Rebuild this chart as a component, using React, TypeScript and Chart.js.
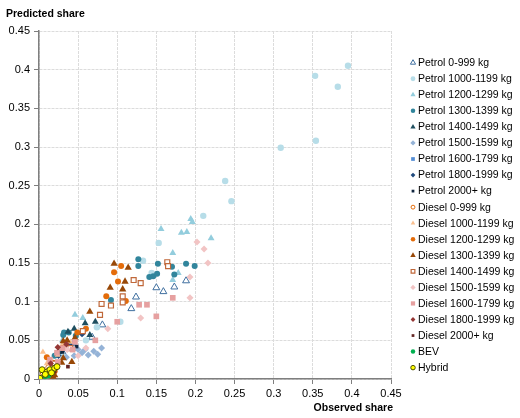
import React, { useEffect, useRef } from "react";
import { Chart, registerables } from "chart.js";
import { drawPoint } from "chart.js/helpers";

Chart.register(...registerables);

type P = [number, number];

const axisTicks = [0, 0.05, 0.1, 0.15, 0.2, 0.25, 0.3, 0.35, 0.4, 0.45];
const xTitle = "Observed share";
const yTitle = "Predicted share";

const petrol0_999: P[] = [[0.124, 0.106], [0.118, 0.091], [0.081, 0.07], [0.068, 0.054], [0.15, 0.118], [0.159, 0.113], [0.173, 0.119], [0.188, 0.127], [0.03, 0.035], [0.045, 0.04]];
const petrol1000_1199: P[] = [[0.395, 0.405], [0.353, 0.392], [0.382, 0.378], [0.354, 0.308], [0.309, 0.299], [0.238, 0.256], [0.246, 0.23], [0.21, 0.211], [0.153, 0.176], [0.133, 0.153], [0.144, 0.137], [0.104, 0.074], [0.074, 0.067], [0.06, 0.05], [0.03, 0.03], [0.02, 0.018]];
const petrol1200_1299: P[] = [[0.156, 0.194], [0.194, 0.207], [0.196, 0.203], [0.182, 0.189], [0.189, 0.19], [0.22, 0.182], [0.171, 0.163], [0.178, 0.137], [0.171, 0.128], [0.046, 0.083], [0.056, 0.079], [0.03, 0.05], [0.02, 0.03]];
const petrol1300_1399: P[] = [[0.127, 0.155], [0.127, 0.146], [0.152, 0.149], [0.17, 0.145], [0.188, 0.149], [0.199, 0.146], [0.141, 0.132], [0.146, 0.133], [0.151, 0.136], [0.173, 0.135], [0.092, 0.102], [0.032, 0.06], [0.038, 0.06], [0.047, 0.056], [0.031, 0.057], [0.02, 0.03]];
const petrol1400_1499: P[] = [[0.059, 0.072], [0.072, 0.074], [0.065, 0.057], [0.037, 0.061], [0.045, 0.065], [0.025, 0.035]];
const petrol1500_1599: P[] = [[0.059, 0.038], [0.063, 0.031], [0.055, 0.034], [0.05, 0.038], [0.07, 0.036], [0.075, 0.032], [0.045, 0.03], [0.035, 0.028], [0.08, 0.04]];
const petrol1600_1799: P[] = [[0.03, 0.04], [0.045, 0.047], [0.015, 0.02]];
const petrol1800_1999: P[] = [[0.055, 0.058], [0.04, 0.045], [0.025, 0.03]];
const petrol2000plus: P[] = [[0.03, 0.035], [0.048, 0.042], [0.01, 0.01]];
const diesel0_999: P[] = [[0.005, 0.008], [0.012, 0.015]];
const diesel1000_1199: P[] = [[0.005, 0.035], [0.024, 0.031], [0.01, 0.02], [0.03, 0.045], [0.04, 0.048]];
const diesel1200_1299: P[] = [[0.105, 0.146], [0.096, 0.138], [0.101, 0.126], [0.086, 0.107], [0.111, 0.101], [0.049, 0.06], [0.01, 0.028], [0.018, 0.021], [0.03, 0.04], [0.06, 0.065], [0.02, 0.01]];
const diesel1300_1399: P[] = [[0.096, 0.149], [0.114, 0.144], [0.11, 0.126], [0.091, 0.118], [0.107, 0.116], [0.065, 0.087], [0.036, 0.05], [0.031, 0.049], [0.046, 0.053], [0.031, 0.027], [0.029, 0.021], [0.02, 0.005], [0.042, 0.022], [0.018, 0.003]];
const diesel1400_1499: P[] = [[0.08, 0.097], [0.092, 0.095], [0.078, 0.083], [0.107, 0.107], [0.107, 0.099], [0.121, 0.128], [0.13, 0.124], [0.164, 0.151], [0.165, 0.146], [0.056, 0.062], [0.04, 0.04], [0.02, 0.02]];
const diesel1500_1599: P[] = [[0.202, 0.177], [0.211, 0.168], [0.216, 0.15], [0.193, 0.132], [0.193, 0.105], [0.13, 0.079], [0.088, 0.065], [0.036, 0.038], [0.05, 0.03], [0.06, 0.04]];
const diesel1600_1799: P[] = [[0.138, 0.096], [0.128, 0.096], [0.1, 0.074], [0.072, 0.05], [0.046, 0.048], [0.023, 0.034], [0.014, 0.025], [0.171, 0.105], [0.15, 0.081], [0.043, 0.038], [0.024, 0.022], [0.03, 0.04]];
const diesel1800_1999: P[] = [[0.024, 0.041], [0.035, 0.045], [0.015, 0.02]];
const diesel2000plus: P[] = [[0.037, 0.016], [0.02, 0.01]];
const bev: P[] = [[0.012, 0.005], [0.001, 0.001], [0.008, 0.004]];
const hybrid: P[] = [[0.001, 0.001], [0.004, 0.012], [0.01, 0.009], [0.014, 0.012], [0.02, 0.014], [0.023, 0.016], [0.008, 0.006], [0.016, 0.008]];

const seriesNames = [
  "Petrol 0-999 kg", "Petrol 1000-1199 kg", "Petrol 1200-1299 kg", "Petrol 1300-1399 kg",
  "Petrol 1400-1499 kg", "Petrol 1500-1599 kg", "Petrol 1600-1799 kg", "Petrol 1800-1999 kg",
  "Petrol 2000+ kg", "Diesel 0-999 kg", "Diesel 1000-1199 kg", "Diesel 1200-1299 kg",
  "Diesel 1300-1399 kg", "Diesel 1400-1499 kg", "Diesel 1500-1599 kg", "Diesel 1600-1799 kg",
  "Diesel 1800-1999 kg", "Diesel 2000+ kg", "BEV", "Hybrid",
];
const seriesData = [
  petrol0_999, petrol1000_1199, petrol1200_1299, petrol1300_1399, petrol1400_1499,
  petrol1500_1599, petrol1600_1799, petrol1800_1999, petrol2000plus, diesel0_999,
  diesel1000_1199, diesel1200_1299, diesel1300_1399, diesel1400_1499, diesel1500_1599,
  diesel1600_1799, diesel1800_1999, diesel2000plus, bev, hybrid,
];

type Sty = { shape: string; r: number; fill: string; stroke: string; bw: number };
const styles: Sty[] = [
  { shape: "triangle", r: 4, fill: "#ffffff", stroke: "#3f6f9f", bw: 1 },
  { shape: "circle", r: 3.2, fill: "#b7dde8", stroke: "#b7dde8", bw: 0 },
  { shape: "triangle", r: 4, fill: "#93cddd", stroke: "#93cddd", bw: 0 },
  { shape: "circle", r: 3, fill: "#31859c", stroke: "#31859c", bw: 0 },
  { shape: "triangle", r: 4, fill: "#1f4e5f", stroke: "#1f4e5f", bw: 0 },
  { shape: "rectRot", r: 3.5, fill: "#95b3d7", stroke: "#95b3d7", bw: 0 },
  { shape: "rect", r: 3.5, fill: "#558ed5", stroke: "#558ed5", bw: 0 },
  { shape: "rectRot", r: 3.2, fill: "#1f497d", stroke: "#1f497d", bw: 0 },
  { shape: "rect", r: 2.6, fill: "#10253f", stroke: "#10253f", bw: 0 },
  { shape: "circle", r: 2.6, fill: "#ffffff", stroke: "#e46c0a", bw: 1 },
  { shape: "triangle", r: 3.5, fill: "#fac090", stroke: "#fac090", bw: 0 },
  { shape: "circle", r: 3, fill: "#e46c0a", stroke: "#e46c0a", bw: 0 },
  { shape: "triangle", r: 4.2, fill: "#984807", stroke: "#984807", bw: 0 },
  { shape: "rect", r: 3.5, fill: "#ffffff", stroke: "#c0683a", bw: 1.2 },
  { shape: "rectRot", r: 3.5, fill: "#f2c4c4", stroke: "#f2c4c4", bw: 0 },
  { shape: "rect", r: 4, fill: "#e6a0a0", stroke: "#e6a0a0", bw: 0 },
  { shape: "rectRot", r: 3.2, fill: "#953735", stroke: "#953735", bw: 0 },
  { shape: "rect", r: 2.6, fill: "#632523", stroke: "#632523", bw: 0 },
  { shape: "circle", r: 3, fill: "#00b050", stroke: "#00b050", bw: 0 },
  { shape: "circle", r: 3, fill: "#ffff00", stroke: "#4d4d00", bw: 1 },
];

const FONT = "'Liberation Sans', Arial, sans-serif";

const overlay = {
  id: "overlay",
  afterDraw(chart: any) {
    const ctx = chart.ctx as CanvasRenderingContext2D;
    ctx.save();
    ctx.fillStyle = "#000000";
    ctx.font = `bold 10.5px ${FONT}`;
    ctx.textBaseline = "middle";
    ctx.textAlign = "left";
    ctx.fillText(yTitle, 6, 14);
    ctx.textAlign = "right";
    ctx.fillText(xTitle, 393, 408);
    ctx.font = `10.5px ${FONT}`;
    ctx.textAlign = "left";
    const x0 = 413;
    const y0 = 62.7;
    const dy = 16.05;
    seriesNames.forEach((name, i) => {
      const s = styles[i];
      const y = y0 + i * dy;
      ctx.fillStyle = s.fill;
      ctx.strokeStyle = s.stroke;
      ctx.lineWidth = s.bw;
      drawPoint(ctx, { pointStyle: s.shape as any, radius: s.r * 0.75, rotation: 0, borderWidth: s.bw }, x0, y);
      ctx.fillStyle = "#000000";
      ctx.fillText(name, 418, y + 0.5);
    });
    ctx.restore();
  },
};

export default function App() {
  const ref = useRef<HTMLCanvasElement>(null);
  useEffect(() => {
    if (!ref.current) return;
    const datasets = seriesData.map((d, i) => ({
      label: seriesNames[i],
      data: d.map(([x, y]) => ({ x, y })),
      pointStyle: styles[i].shape as any,
      pointRadius: styles[i].r,
      pointBackgroundColor: styles[i].fill,
      pointBorderColor: styles[i].stroke,
      pointBorderWidth: styles[i].bw,
      showLine: false,
      order: seriesNames.length - i,
    }));
    const fmt = (v: any) => {
      const n = Number(Number(v).toFixed(2));
      return axisTicks.some((t) => Math.abs(t - n) < 1e-9) ? String(n) : "";
    };
    const chart = new Chart(ref.current, {
      type: "scatter",
      data: { datasets },
      plugins: [overlay],
      options: {
        responsive: false,
        animation: false,
        layout: { padding: { left: 0, right: 129, top: 31, bottom: 0 } },
        plugins: { legend: { display: false }, tooltip: { enabled: false } },
        scales: {
          x: {
            type: "linear",
            min: 0,
            max: 0.45,
            afterFit: (s: any) => { s.height = 39; },
            ticks: { stepSize: 0.05, callback: fmt, color: "#000000", font: { family: FONT, size: 11 }, padding: 3, maxRotation: 0, autoSkip: false },
            grid: { color: "#dcdcdc", lineWidth: 1, tickColor: "#7f7f7f", tickLength: 5, tickWidth: 1 },
            border: { color: "#7f7f7f", width: 1.5, dash: [3, 1] },
          },
          y: {
            type: "linear",
            min: 0,
            max: 0.45,
            afterFit: (s: any) => { s.width = 39; },
            ticks: { stepSize: 0.05, callback: fmt, color: "#000000", font: { family: FONT, size: 11 }, padding: 4, autoSkip: false },
            grid: { color: "#dcdcdc", lineWidth: 1, tickColor: "#7f7f7f", tickLength: 5, tickWidth: 1 },
            border: { color: "#7f7f7f", width: 1.5, dash: [3, 1] },
          },
        },
      },
    });
    return () => chart.destroy();
  }, []);
  return (
    <div style={{ position: "fixed", left: 0, top: 0, width: 520, height: 418, background: "#ffffff" }}>
      <canvas ref={ref} width={520} height={418} />
    </div>
  );
}
